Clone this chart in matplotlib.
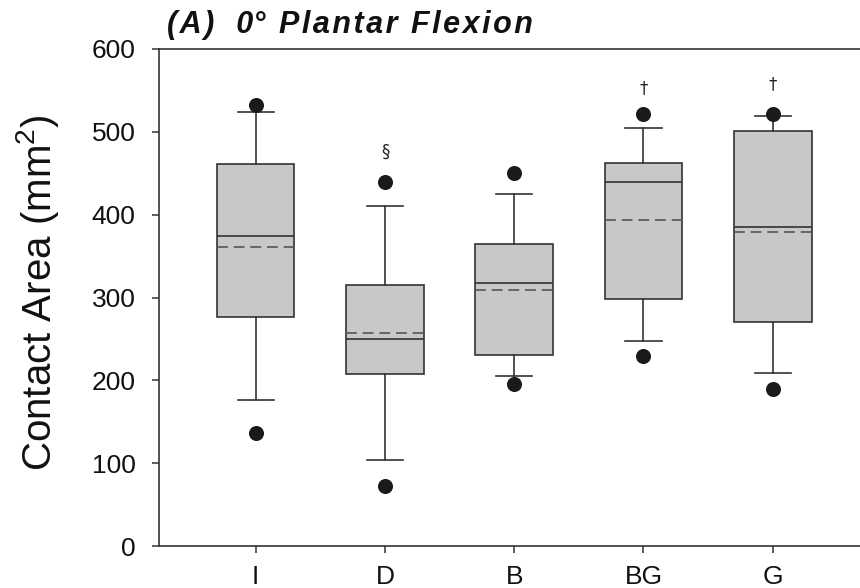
import matplotlib
matplotlib.use("Agg")
import matplotlib.pyplot as plt

plt.rcParams['font.family'] = ['Liberation Sans', 'DejaVu Sans']
plt.rcParams['mathtext.fontset'] = 'custom'
plt.rcParams['mathtext.rm'] = 'Liberation Sans'

# values (mm^2)
cats = ['I', 'D', 'B', 'BG', 'G']
q1 = [277, 208, 231, 298, 271]
q3 = [461, 315, 365, 462, 501]
med = [374, 250, 317, 439, 385]
mean = [361, 257, 309, 393, 379]
whislo = [176, 104, 205, 248, 209]
whishi = [524, 411, 425, 505, 519]
low_pt = [137, 72, 196, 229, 190]
high_pt = [532, 440, 450, 522, 522]
marks = ['', '§', '', '†', '†']
mark_y = [0, 476, 0, 553, 557]

dark = '#333333'

stats = []
for i, c in enumerate(cats):
    stats.append(dict(label=c, med=med[i], q1=q1[i], q3=q3[i], mean=mean[i],
                      whislo=whislo[i], whishi=whishi[i],
                      fliers=[low_pt[i], high_pt[i]]))

fig = plt.figure(figsize=(8.6, 5.88), dpi=100)
ax = fig.add_axes([159 / 860, 42 / 588, 1 - 159 / 860, 497 / 588])

pos = list(range(1, len(cats) + 1))
ax.bxp(stats, positions=pos, widths=0.6, patch_artist=True,
       showmeans=True, meanline=True, capwidths=0.28,
       boxprops=dict(facecolor='#c8c8c8', edgecolor=dark, linewidth=1.2),
       medianprops=dict(color=dark, linewidth=1.2),
       meanprops=dict(color='#555555', linewidth=1.2, linestyle=(0, (6.5, 3.5))),
       whiskerprops=dict(color=dark, linewidth=1.2),
       capprops=dict(color=dark, linewidth=1.2),
       flierprops=dict(marker='o', markerfacecolor='#1a1a1a',
                       markeredgecolor='#1a1a1a', markersize=9.8))

for i, m in enumerate(marks):
    if m:
        ax.text(pos[i], mark_y[i], m, ha='center', va='center',
                fontsize=12, color='#222222', family=['DejaVu Sans'])

ax.set_xlim(1 - 0.748, 5.675)
ax.set_ylim(0, 600)
ax.set_yticks(range(0, 601, 100))
ax.set_xticks(pos)
ax.set_xticklabels(cats)
ax.tick_params(axis='both', direction='out', length=5, width=1.1,
               color=dark, labelsize=19, labelcolor='#111111', pad=9)
ax.tick_params(axis='y', pad=12)

for s in ['left', 'bottom', 'top']:
    ax.spines[s].set_color(dark)
    ax.spines[s].set_linewidth(1.2)
ax.spines['right'].set_visible(False)

ax.set_ylabel(r'Contact Area (mm$^2$)', fontsize=29, color='#111111')
ax.yaxis.set_label_coords(-0.14, 0.51)

title = '\u200a'.join('(A)') + '\u200a  \u200a' + '0°' + '\u200a \u200a' + \
    '\u200a'.join('Plantar') + '\u200a \u200a' + '\u200a'.join('Flexion')
fig.text(167 / 860, 1 - 33 / 588, title, fontsize=22, fontweight='bold',
         fontstyle='italic', ha='left', va='baseline', color='#111111')

fig.savefig('out.png', dpi=100)
